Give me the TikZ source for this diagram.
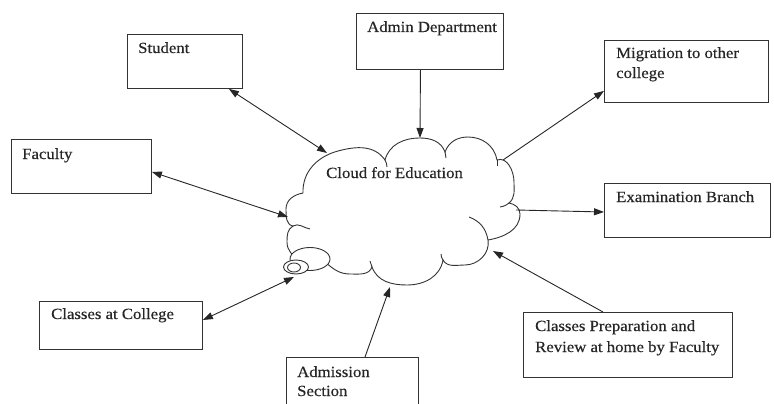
\documentclass[tikz,border=0pt]{standalone}
\usepackage{fontspec}
\setmainfont[FakeStretch=1.08,FakeBold=0.4]{Liberation Serif}
\usetikzlibrary{arrows.meta,calc}
\begin{document}
\begin{tikzpicture}[x=1pt,y=1pt,
  box/.style={draw=black!80, line width=0.9pt, rectangle, inner sep=0pt, anchor=north west},
  lbl/.style={inner sep=0pt, anchor=base west, font=\fontsize{15.5}{20}\selectfont, text=black!85, align=left},
  conn/.style={line width=0.9pt, draw=black!85},
  onetip/.style={conn, -{Triangle[length=10pt,width=7pt]}},
  twotip/.style={conn, {Triangle[length=10pt,width=7pt]}-{Triangle[length=10pt,width=7pt]}},
  cloudline/.style={line width=0.9pt, draw=black!80}
]
\path[use as bounding box] (0,0) rectangle (774,-404);
\clip (0,0) rectangle (774,-404);

% boxes
\node[box, minimum width=115, minimum height=54] (stu) at (127,-34) {};
\node[box, minimum width=147, minimum height=56] (adm) at (356,-13) {};
\node[box, minimum width=164, minimum height=62] (mig) at (604,-40) {};
\node[box, minimum width=140, minimum height=54] (fac) at (11,-139) {};
\node[box, minimum width=166, minimum height=54] (exa) at (604,-183) {};
\node[box, minimum width=163, minimum height=48] (cac) at (39,-301) {};
\node[box, minimum width=132, minimum height=60] (ads) at (286,-357) {};
\node[box, minimum width=209, minimum height=65] (cpr) at (523,-312) {};

% labels
\node[lbl] (stut) at ([shift={(11,-19)}]stu.north west) {Student};
\node[lbl] (admt) at ([shift={(11,-19)}]adm.north west) {Admin Department};
\node[lbl] (migt1) at ([shift={(12,-18)}]mig.north west) {Migration to other};
\node[lbl] (migt2) at ([shift={(12,-38)}]mig.north west) {college};
\node[lbl] (fact) at ([shift={(11,-20)}]fac.north west) {Faculty};
\node[lbl] (exat) at ([shift={(12,-19)}]exa.north west) {Examination Branch};
\node[lbl] (cact) at ([shift={(12,-18)}]cac.north west) {Classes at College};
\node[lbl] (adst1) at ([shift={(11,-20)}]ads.north west) {Admission};
\node[lbl] (adst2) at ([shift={(11,-39)}]ads.north west) {Section};
\node[lbl] (cprt1) at ([shift={(12,-19)}]cpr.north west) {Classes Preparation and};
\node[lbl] (cprt2) at ([shift={(12,-40)}]cpr.north west) {Review at home by Faculty};

% cloud outline
\draw[cloudline]
  (303,-193) to[out=92,in=195] (338,-151) to[out=15,in=125] (385,-160)
  to[out=75,in=180] (420,-138) to[out=0,in=110] (445,-152)
  to[out=70,in=180] (468,-137) to[out=0,in=100] (497,-160)
  to[out=20,in=90] (514,-182) to[out=-90,in=40] (509,-203)
  to[out=-10,in=90] (520,-214) to[out=-90,in=10] (488,-240)
  to[out=-80,in=0] (465,-265) to[out=180,in=-60] (443,-260)
  to[out=-100,in=0] (407,-285) to[out=180,in=-70] (372,-267)
  to[out=-110,in=0] (350,-274) to[out=180,in=-40] (325,-262)
  to[out=-170,in=-90] (287,-242) to[out=90,in=-150] (293,-226)
  to[out=170,in=-90] (286,-209) to[out=90,in=-170] (303,-193);
% inner arcs of the cloud
\draw[cloudline] (293,-226) to[out=30,in=170] (310,-229);
\draw[cloudline] (385,-160) to[out=-55,in=100] (387,-167);
\draw[cloudline] (445,-152) to[out=-70,in=95] (446,-158);
\draw[cloudline] (497,-160) to[out=-80,in=90] (497,-166);
\draw[cloudline] (509,-203) to[out=-140,in=10] (500,-207);
\draw[cloudline] (488,-240) to[out=100,in=-20] (469,-217);
\draw[cloudline] (443,-260) to[out=120,in=-90] (441,-254);
\draw[cloudline] (372,-267) to[out=110,in=-80] (370,-261);
\draw[cloudline] (325,-262) to[out=140,in=-10] (318,-257);
% thought bubbles
\draw[cloudline, fill=white] (310,-259) ellipse[x radius=20, y radius=11.5];
\draw[cloudline, fill=white] (296,-267) ellipse[x radius=12.5, y radius=7];
\draw[cloudline] (294,-267.5) ellipse[x radius=6.5, y radius=4.5];

\node[lbl] (ctext) at (326,-178) {Cloud for Education};

% points on the cloud
\coordinate (cS) at (327,-153);
\coordinate (cA) at (420,-138);
\coordinate (cM) at (503,-160);
\coordinate (cF) at (288,-217);
\coordinate (cE) at (516,-210);
\coordinate (cC) at (294,-277);
\coordinate (cD) at (390,-287);
\coordinate (cP) at (493,-251);

% connectors
\draw[twotip] ([xshift=-14pt]stu.south east) -- (cS);
\draw[onetip] ([xshift=-9.5pt]adm.south) -- (cA);
\draw[onetip] (cM) -- ([yshift=12pt]mig.south west);
\draw[twotip] ([yshift=22pt]fac.south east) -- (cF);
\draw[onetip] (cE) -- ([yshift=-29pt]exa.north west);
\draw[twotip] ([yshift=-19pt]cac.north east) -- (cC);
\draw[onetip] ([xshift=79pt]ads.north west) -- (cD);
\draw[onetip] ([xshift=80pt]cpr.north west) -- (cP);
\end{tikzpicture}
\end{document}
